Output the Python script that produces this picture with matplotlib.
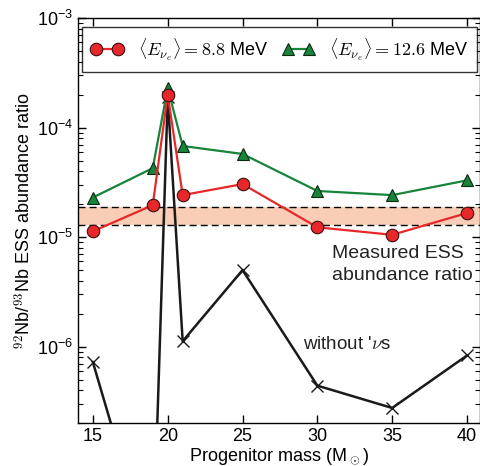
import matplotlib
matplotlib.use("Agg")
import matplotlib.pyplot as plt
from matplotlib.ticker import LogLocator, NullFormatter, FixedLocator

plt.rcParams['font.family'] = ['Liberation Sans', 'DejaVu Sans']
plt.rcParams['mathtext.fontset'] = 'cm'

masses = [15, 19, 20, 21, 25, 30, 35, 40]
ratio_88 = [1.13e-5, 1.96e-5, 2.0e-4, 2.42e-5, 3.05e-5, 1.23e-5, 1.05e-5, 1.66e-5]
ratio_126 = [2.3e-5, 4.27e-5, 2.3e-4, 6.8e-5, 5.75e-5, 2.64e-5, 2.42e-5, 3.3e-5]
ratio_nonu = [7.2e-7, 1.0e-8, 1.9e-4, 1.12e-6, 5.0e-6, 4.4e-7, 2.75e-7, 8.3e-7]
ess_low, ess_high = 1.29e-5, 1.88e-5
xticks = [15, 20, 25, 30, 35, 40]

fig = plt.figure(figsize=(4.81, 4.66), dpi=100)
ax = fig.add_axes([0.162, 0.092, 0.836, 0.869])
ax.set_yscale('log')
ax.set_xlim(14, 40.87)
ax.set_ylim(2e-7, 1e-3)

ax.axhspan(ess_low, ess_high, color='#f9cdb6', zorder=0, lw=0)
ax.axhline(ess_low, color='black', ls=(0, (5, 3)), lw=1.0, zorder=1)
ax.axhline(ess_high, color='black', ls=(0, (5, 3)), lw=1.0, zorder=1)

ax.plot(masses, ratio_nonu, color='#1a1a1a', lw=1.8, marker='x', ms=8, mew=1.0,
        zorder=2)
ax.plot(masses, ratio_88, color='#e8272a', lw=1.6, marker='o', ms=9,
        mfc='#e8272a', mec='#3a1010', mew=0.8, zorder=4,
        label=r'$\langle E_{\nu_e}\rangle = 8.8$ MeV')
ax.plot(masses, ratio_126, color='#17843a', lw=1.6, marker='^', ms=9,
        mfc='#17843a', mec='#0a2a10', mew=0.8, zorder=3,
        label=r'$\langle E_{\nu_e}\rangle = 12.6$ MeV')

leg = ax.legend(loc='upper left', bbox_to_anchor=(0.01, 0.978, 0.983, 0),
                mode='expand', ncol=2, numpoints=2, fontsize=13,
                frameon=True, fancybox=False, edgecolor='black',
                handlelength=1.8, handletextpad=0.8, columnspacing=1.0,
                borderpad=0.5, borderaxespad=0)
leg.get_frame().set_linewidth(1.0)

ax.text(0.632, 0.44, 'Measured ESS\nabundance ratio', transform=ax.transAxes,
        ha='left', va='top', fontsize=14, color='#222222', linespacing=1.4)
ax.text(0.56, 0.193, r"without '$\nu$s", transform=ax.transAxes,
        ha='left', va='center', fontsize=13.5, color='#222222')

ax.xaxis.set_major_locator(FixedLocator(xticks))
ax.yaxis.set_major_locator(LogLocator(base=10, numticks=10))
ax.yaxis.set_minor_locator(LogLocator(base=10, subs=range(2, 10), numticks=20))
ax.yaxis.set_minor_formatter(NullFormatter())
ax.tick_params(which='both', direction='in', top=True, right=True,
               labelsize=13, colors='black')
ax.tick_params(which='major', length=6, width=1)
ax.tick_params(which='minor', length=3.5, width=0.8)
for s in ax.spines.values():
    s.set_linewidth(1.0)

ax.set_xlabel(r'Progenitor mass (M$_\odot$)', fontsize=13, labelpad=1)
ax.set_ylabel(r'$^{92}$Nb/$^{93}$Nb ESS abundance ratio', fontsize=13, labelpad=2)

fig.savefig('out.png', dpi=100)
